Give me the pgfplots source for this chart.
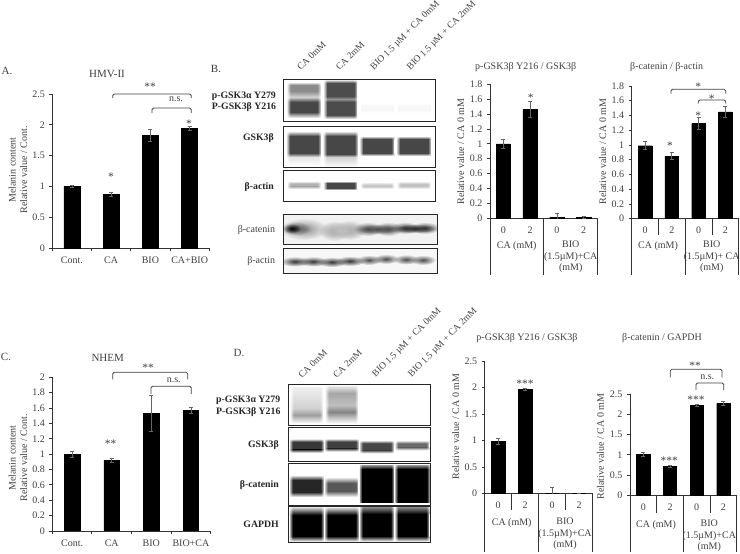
\documentclass[border=0pt]{standalone}
\usepackage{fontspec}
\setmainfont{Liberation Serif}
\usepackage{pgfplots}
\pgfplotsset{compat=1.18}
\usetikzlibrary{fadings}
\tikzfading[name=spot,inner color=transparent!0,outer color=transparent!100]

\definecolor{txt}{gray}{0.25}
\definecolor{ebar}{gray}{0.4}
\newcommand{\fs}{\fontsize{10}{11.5}\selectfont}
\newcommand{\fsb}{\fontsize{9.8}{11}\selectfont\bfseries}

\tikzset{
  lbl/.style={font=\fs,text=txt,inner sep=0pt,align=center},
  star/.style={font=\fontsize{11.5}{12}\selectfont,text=txt,inner sep=0pt},
  blbl/.style={font=\fsb,text=black!85,inner sep=0pt,anchor=east},
  rot/.style={font=\fontsize{9.5}{11}\selectfont,text=txt,inner sep=0pt,anchor=south west,rotate=45},
}

\pgfplotsset{
  barchart/.style={
    scale only axis,anchor=south west,
    axis x line=bottom,axis y line=left,
    axis line style={-,black!80,line width=0.8pt},
    ymin=0,xmin=-0.5,xmax=3.5,
    xtick={0,1,2,3},
    minor xtick={-0.5,0.5,1.5,2.5,3.5},
    major x tick style={draw=none},
    tick align=outside,major tick length=3pt,minor tick length=3pt,
    tick style={black!80,line width=0.8pt},
    tick label style={font=\fs,text=txt},
    /pgf/number format/assume math mode=true,
    xticklabel style={yshift=-2pt},
    y tick label style={xshift=-1pt},
    ylabel style={font=\fs,text=txt,anchor=center,align=center},
  },
  bars/.style={
    ybar,fill=black,draw=black,bar width=#1,
    error bars/.cd,y dir=both,y explicit,
    error bar style={ebar,line width=0.7pt},
    error mark options={rotate=90,ebar,mark size=2pt,line width=0.7pt},
  },
}

% grey ramp from g1 at y1 to g2 at y2 (canvas pixels)
\newcommand{\grad}[6]{\shade[top color=black!#5,bottom color=black!#6]
  (axis cs:{#1-#2},#3) rectangle (axis cs:{#1+#2},#4);}
% soft band: centre x, half width, centre y, solid half height, fade, grey
\newcommand{\band}[6]{%
  \fill[black!#6] (axis cs:{#1-#2},{#3-#4}) rectangle (axis cs:{#1+#2},{#3+#4});
  \shade[top color=white,bottom color=black!#6] (axis cs:{#1-#2},{#3-#4-#5}) rectangle (axis cs:{#1+#2},{#3-#4});
  \shade[top color=black!#6,bottom color=white] (axis cs:{#1-#2},{#3+#4}) rectangle (axis cs:{#1+#2},{#3+#4+#5});}
% blurred lane edges
\newcommand{\soft}[4]{%
  \fill[white,path fading=east] (axis cs:{#1-#2-1},#3) rectangle (axis cs:{#1-#2+3},#4);
  \fill[white,path fading=west] (axis cs:{#1+#2-3},#3) rectangle (axis cs:{#1+#2+1},#4);}
% smeared spot for the film blots: x, y, radii, grey
\newcommand{\blob}[5]{\fill[black!#5,path fading=spot]
  (axis cs:#1,#2) ellipse [x radius=#3pt,y radius=#4pt];}
\newcommand{\frm}[4]{\draw[line width=1pt,black!85] (axis cs:#1,#3) rectangle (axis cs:#2,#4);}
\newcommand{\brk}[5]{\draw[rounded corners=1.5pt,line width=0.8pt,black!75]
  (axis cs:#1,#4) |- (axis cs:#2,#3) -- (axis cs:#2,#5);}
\newcommand{\vl}[3]{\draw[line width=0.8pt,black!80] (axis cs:#1,#2) -- (axis cs:#1,#3);}
\newcommand{\tx}[3]{\node[lbl] at (axis cs:#1,#2) {#3};}
\newcommand{\st}[3]{\node[star] at (axis cs:#1,#2) {#3};}

\begin{document}
\begin{tikzpicture}
\useasboundingbox (0,0) rectangle (740pt,554pt);

% canvas in reference pixels: blots, panel letters, brackets, table rules
\begin{axis}[at={(0pt,0pt)},anchor=south west,scale only axis,width=740pt,height=554pt,
  xmin=0,xmax=740,ymin=0,ymax=554,y dir=reverse,hide axis,clip=false]

% --- panel letters and titles
\node[font=\fontsize{11}{12}\selectfont,text=txt] at (axis cs:7,71) {A.};
\node[font=\fontsize{11}{12}\selectfont,text=txt] at (axis cs:216,69) {B.};
\node[font=\fontsize{11}{12}\selectfont,text=txt] at (axis cs:6,357) {C.};
\node[font=\fontsize{11}{12}\selectfont,text=txt] at (axis cs:239,353) {D.};
\node[font=\fontsize{11}{12}\selectfont,text=txt] at (axis cs:107,74) {HMV-II};
\node[font=\fontsize{11}{12}\selectfont,text=txt] at (axis cs:107.7,358) {NHEM};
\tx{525.7}{66.7}{p-GSK3β Y216 / GSK3β}
\tx{666.7}{66.7}{β-catenin / β-actin}
\tx{527}{338}{p-GSK3β Y216 / GSK3β}
\tx{662}{338}{β-catenin / GAPDH}

% --- brackets and stars, A
\brk{112.7}{191.3}{94}{98}{98}
\brk{152}{191.3}{108}{113}{113}
\st{150}{87}{**}\tx{176}{99}{n.s.}\st{111}{177}{*}\st{189}{124}{*}
% C
\brk{112.7}{187.7}{372.3}{379.3}{379.3}
\brk{151}{191.3}{386.3}{394}{394}
\st{148}{368}{**}\tx{173.7}{380}{n.s.}\st{110.7}{444}{**}
% B charts
\st{530.7}{98}{*}
\brk{671}{725.7}{89.3}{93.7}{93.7}
\brk{698.3}{725.7}{100}{103.7}{103.7}
\st{698.3}{87}{*}\st{711.7}{98.5}{*}\st{670}{146}{*}\st{698.3}{115.5}{*}
% D charts
\st{525}{384}{***}
\brk{670.3}{722}{369.3}{377.3}{377.3}
\brk{696}{723.7}{383}{390}{390}
\st{695}{366}{**}\tx{707.3}{377}{n.s.}\st{696}{399.5}{***}\st{669.3}{461}{***}

% --- table rules under the charts
\vl{490}{218}{275}\vl{543.7}{218}{275}\vl{597.3}{218}{275}
\vl{631.7}{218}{275}\vl{658.7}{218}{235}\vl{685.3}{218}{275}\vl{712.3}{218}{235}\vl{738.7}{218}{275}
\vl{484.7}{493}{552}\vl{511.7}{493}{510}\vl{538.3}{493}{552}\vl{565.3}{493}{510}\vl{592.7}{493}{552}
\vl{630}{495}{552}\vl{656.7}{495}{512.7}\vl{683.3}{495}{552}\vl{710}{495}{512.7}\vl{736.7}{495}{552}
\tx{516.7}{246}{CA (mM)}
\tx{570.7}{257}{BIO\\(1.5µM)+CA\\(mM)}
\tx{658}{246}{CA (mM)}
\tx{711.7}{257}{BIO\\(1.5µM)+ CA\\(mM)}
\tx{511.7}{523.3}{CA (mM)}
\tx{565}{534}{BIO\\(1.5µM)+CA\\(mM)}
\tx{656}{525}{CA (mM)}
\tx{709.3}{536}{BIO\\(1.5µM)+CA\\(mM)}

% --- lane labels, B
\node[rot] at (axis cs:301,71) {CA 0mM};
\node[rot] at (axis cs:339.7,71) {CA 2mM};
\node[rot] at (axis cs:375.3,72) {BIO 1.5 µM + CA 0mM};
\node[rot] at (axis cs:411.7,72) {BIO 1.5 µM + CA 2mM};
\node[blbl,anchor=west] at (axis cs:211.7,96) {p-GSK3α Y279};
\node[blbl,anchor=west] at (axis cs:211.7,106.7) {P-GSK3β Y216};
\node[blbl] at (axis cs:274,138.3) {GSK3β};
\node[blbl] at (axis cs:274,187.3) {β-actin};
\node[lbl,anchor=east] at (axis cs:275.3,230.3) {β-catenin};
\node[lbl,anchor=east] at (axis cs:275.3,261.3) {β-actin};
% lane labels, D
\node[rot] at (axis cs:302.3,379) {CA 0mM};
\node[rot] at (axis cs:337,379) {CA 2mM};
\node[rot] at (axis cs:377,379) {BIO 1.5 µM + CA 0mM};
\node[rot] at (axis cs:413,379) {BIO 1.5 µM + CA 2mM};
\node[blbl,anchor=west] at (axis cs:216,400.7) {p-GSK3α Y279};
\node[blbl,anchor=west] at (axis cs:216,411.7) {P-GSK3β Y216};
\node[blbl] at (axis cs:279,445) {GSK3β};
\node[blbl] at (axis cs:279,485.3) {β-catenin};
\node[blbl] at (axis cs:279,524.7) {GAPDH};

% --- blot B, capillary panels
\grad{304}{16.5}{82}{85}{0}{45}\grad{304}{16.5}{85}{91}{45}{45}\grad{304}{16.5}{91}{97}{45}{18}
\grad{304}{16.5}{97}{102}{18}{72}\grad{304}{16.5}{102}{112}{72}{72}\grad{304}{16.5}{112}{118}{72}{0}
\grad{340.7}{16.5}{80}{83}{10}{70}\grad{340.7}{16.5}{83}{96}{70}{70}\grad{340.7}{16.5}{96}{99}{70}{42}
\grad{340.7}{16.5}{99}{102}{42}{70}\grad{340.7}{16.5}{102}{115}{70}{70}\grad{340.7}{16.5}{115}{119}{70}{0}
\band{377.3}{16.5}{108}{2}{3}{3}\band{414}{16.5}{108}{2}{3}{3}
\soft{304}{16.5}{80}{121}\soft{340.7}{16.5}{80}{121}
\frm{283.3}{435.7}{79.3}{121.7}

\grad{304}{17}{131}{136}{0}{72}\grad{304}{17}{136}{153}{72}{72}\grad{304}{17}{153}{157}{72}{10}\grad{304}{17}{157}{166}{10}{0}
\grad{340.7}{17}{131}{136}{0}{72}\grad{340.7}{17}{136}{154}{72}{72}\grad{340.7}{17}{154}{157}{72}{18}\grad{340.7}{17}{157}{166}{18}{2}
\band{377.3}{17}{146}{7}{3}{72}\band{414}{17}{146}{7}{3}{72}
\soft{304}{17}{127}{166}\soft{340.7}{17}{127}{166}\soft{377.3}{17}{127}{166}\soft{414}{17}{127}{166}
\frm{283.3}{435.7}{126.3}{167}

\band{304}{16.5}{185}{1.5}{2.5}{30}\band{340.7}{16.5}{185.5}{2.5}{2}{72}
\band{377.3}{16.5}{185.5}{1}{2.5}{20}\band{414}{16.5}{185}{1}{3}{24}
\soft{304}{16.5}{171}{201}\soft{340.7}{16.5}{171}{201}\soft{377.3}{16.5}{171}{201}\soft{414}{16.5}{171}{201}
\frm{283.3}{435.7}{170.3}{201.7}

% film blots
\begin{scope}
\clip (axis cs:283.3,214) rectangle (axis cs:437,244.3);
\fill[black!5] (axis cs:283.3,214) rectangle (axis cs:437,244.3);
\blob{304}{229}{24}{11}{45}\blob{296}{228.5}{15}{7}{65}\blob{292}{228.5}{9}{5}{100}
\blob{334}{231}{16}{10}{40}\blob{350}{230}{16}{10}{40}\blob{341}{230}{22}{9}{25}
\blob{368}{229}{15}{7}{70}\blob{388}{229}{15}{7}{70}\blob{378}{229}{22}{5}{70}
\blob{405}{228}{15}{6}{75}\blob{425}{228}{15}{6}{75}\blob{415}{228.5}{22}{4.5}{85}
\end{scope}
\frm{283.3}{437}{214}{244.3}
\begin{scope}
\clip (axis cs:283.3,248.3) rectangle (axis cs:437,273.3);
\fill[black!3] (axis cs:283.3,248.3) rectangle (axis cs:437,273.3);
\blob{295}{261.5}{15}{5}{80}\blob{313}{261.5}{15}{5}{80}
\blob{332}{262}{15}{5}{80}\blob{350}{261}{15}{5}{80}
\blob{369}{260}{13}{5}{70}\blob{386}{259}{13}{5}{70}
\blob{406}{259.5}{13}{5}{70}\blob{423}{260}{13}{5}{70}
\end{scope}
\frm{283.3}{437}{248.3}{273.3}

% --- blot D
\grad{306.7}{16}{387}{408}{6}{18}\grad{306.7}{16}{408}{415}{18}{38}\grad{306.7}{16}{415}{423}{38}{2}
\grad{341.7}{16}{386}{393}{8}{35}\grad{341.7}{16}{393}{405}{35}{25}\grad{341.7}{16}{405}{412}{25}{48}\grad{341.7}{16}{412}{423}{48}{2}
\soft{306.7}{16}{385}{425}\soft{341.7}{16}{385}{425}
\frm{288.7}{430}{384.3}{425.3}

\band{306.7}{17}{445.7}{4}{3}{78}\band{341.7}{17}{445}{3.5}{3}{75}
\band{376.7}{17}{446.7}{3.5}{3}{72}\band{412.3}{17}{445.3}{2}{3}{58}
\soft{306.7}{17}{428}{461}\soft{341.7}{17}{428}{461}\soft{376.7}{17}{428}{461}\soft{412.3}{17}{428}{461}
\frm{288.7}{430}{427.3}{461.7}

\band{306.7}{17}{486}{6}{5}{85}\band{341.7}{17}{487}{4}{6}{65}
\grad{376.7}{17.5}{465}{469}{40}{100}\grad{412.3}{17.5}{465}{469}{40}{100}
\fill[black] (axis cs:359.2,469) rectangle (axis cs:394.2,503);
\fill[black] (axis cs:394.8,469) rectangle (axis cs:429.8,503);
\soft{306.7}{17}{464}{504}\soft{341.7}{17}{464}{504}\soft{376.7}{17.5}{464}{504}\soft{412.3}{17.5}{464}{504}
\frm{288.7}{430}{463.7}{505}

\grad{306.7}{17}{507}{515}{12}{100}\grad{341.7}{17}{507}{515}{8}{100}
\grad{376.7}{17}{507}{514}{45}{100}\grad{412.3}{17}{507}{514}{45}{100}
\fill[black] (axis cs:289.7,514.5) rectangle (axis cs:323.7,536.5);
\fill[black] (axis cs:324.7,514.5) rectangle (axis cs:358.7,536.5);
\fill[black] (axis cs:359.7,513.5) rectangle (axis cs:393.7,536.5);
\fill[black] (axis cs:395.3,513.5) rectangle (axis cs:429.3,536.5);
\grad{306.7}{17}{536}{541}{100}{10}\grad{341.7}{17}{536}{541}{100}{10}
\grad{376.7}{17}{536}{541}{100}{10}\grad{412.3}{17}{536}{541}{100}{10}
\soft{306.7}{17}{507}{541}\soft{341.7}{17}{507}{541}\soft{376.7}{17}{507}{541}\soft{412.3}{17}{507}{541}
\frm{288.7}{430}{506}{542}
\end{axis}

% --- A: HMV-II
\begin{axis}[barchart,at={(52.3pt,305.7pt)},width=157pt,height=154.3pt,ymax=2.5,
  ytick={0,0.5,1,1.5,2,2.5},xticklabels={Cont.,CA,BIO,CA+BIO},
  ylabel={Melanin content\\Relative value / Cont.},
  ylabel style={at={(axis description cs:-0.218,0.507)}}]
\addplot[bars=16pt] coordinates {(0,1.0) +- (0,0.02) (1,0.87) +- (0,0.03) (2,1.83) +- (0,0.1) (3,1.94) +- (0,0.03)};
\end{axis}

% --- C: NHEM
\begin{axis}[barchart,at={(52.3pt,23pt)},width=158.4pt,height=153.7pt,ymax=2,
  ytick={0,0.2,0.4,0.6,0.8,1,1.2,1.4,1.6,1.8,2},xticklabels={Cont.,CA,BIO,BIO+CA},
  ylabel={Melanin content\\Relative value / Cont.},
  ylabel style={at={(axis description cs:-0.217,0.475)}}]
\addplot[bars=15.5pt] coordinates {(0,1.0) +- (0,0.04) (1,0.92) +- (0,0.03) (2,1.53) +- (0,0.23) (3,1.57) +- (0,0.035)};
\end{axis}

% --- B, p-GSK3b
\begin{axis}[barchart,at={(490pt,335.7pt)},width=107pt,height=134pt,ymax=1.8,
  ytick={0,0.2,0.4,0.6,0.8,1,1.2,1.4,1.6,1.8},xticklabels={0,2,0,2},minor xtick={},
  ylabel={Relative value / CA 0 mM},
  ylabel style={at={(axis description cs:-0.274,0.497)}}]
\addplot[bars=14.3pt] coordinates {(0,1.0) +- (0,0.06) (1,1.46) +- (0,0.11) (2,0.015) +- (0,0.055) (3,0.015) +- (0,0.01)};
\end{axis}

% --- B, b-catenin
\begin{axis}[barchart,at={(631.7pt,335.3pt)},width=107pt,height=132.7pt,ymax=1.8,
  ytick={0,0.2,0.4,0.6,0.8,1,1.2,1.4,1.6,1.8},xticklabels={0,2,0,2},minor xtick={},
  ylabel={Relative value / CA 0 mM},
  ylabel style={at={(axis description cs:-0.271,0.505)}}]
\addplot[bars=13.7pt] coordinates {(0,0.99) +- (0,0.055) (1,0.85) +- (0,0.05) (2,1.29) +- (0,0.08) (3,1.45) +- (0,0.08)};
\end{axis}

% --- D, p-GSK3b
\begin{axis}[barchart,at={(484.7pt,60.3pt)},width=108pt,height=132.7pt,ymax=2.5,
  ytick={0,0.5,1,1.5,2,2.5},xticklabels={0,2,0,2},minor xtick={},
  ylabel={Relative value / CA 0 mM},
  ylabel style={at={(axis description cs:-0.269,0.505)}}]
\addplot[bars=13.3pt] coordinates {(0,0.99) +- (0,0.06) (1,1.96) +- (0,0.02) (2,0) +- (0,0.12) (3,0) +- (0,0)};
\end{axis}

% --- D, b-catenin
\begin{axis}[barchart,at={(630pt,58.7pt)},width=106.7pt,height=101.3pt,ymax=2.5,
  ytick={0,0.5,1,1.5,2,2.5},xticklabels={0,2,0,2},minor xtick={},
  ylabel={Relative value / CA 0 mM},
  ylabel style={at={(axis description cs:-0.278,0.48)}}]
\addplot[bars=13.3pt] coordinates {(0,1.01) +- (0,0.05) (1,0.72) +- (0,0.02) (2,2.22) +- (0,0.02) (3,2.27) +- (0,0.05)};
\end{axis}
\end{tikzpicture}
\end{document}
